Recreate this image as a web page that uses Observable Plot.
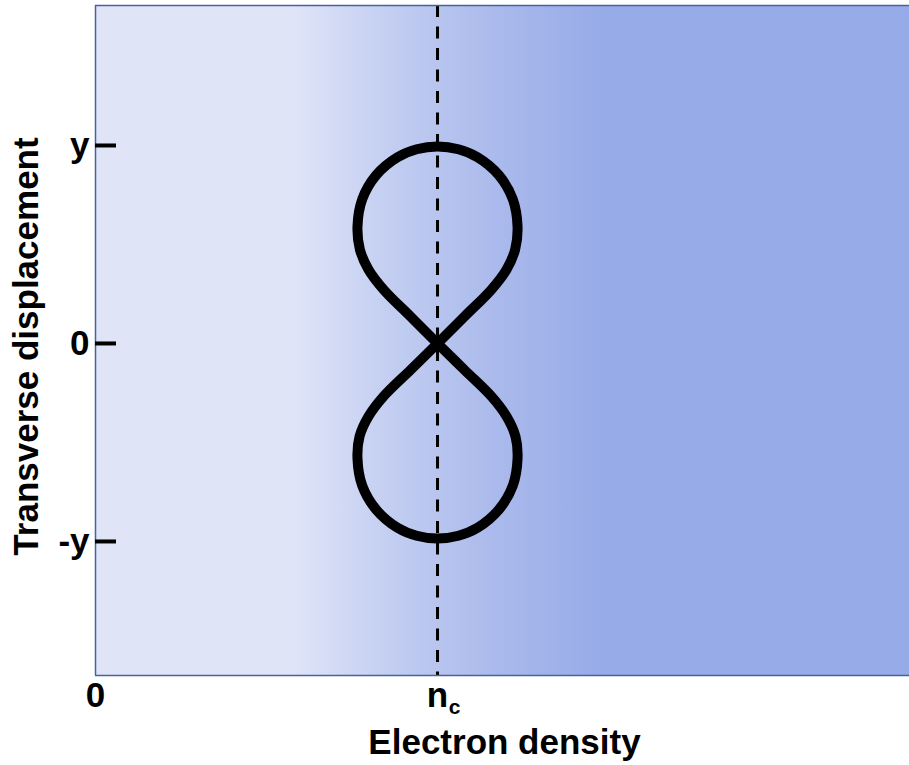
<!DOCTYPE html>
<html>
<head>
<meta charset="utf-8">
<script src="https://cdn.jsdelivr.net/npm/d3@7"></script>
<script src="https://cdn.jsdelivr.net/npm/@observablehq/plot@0.6"></script>
<style>
  body { margin: 0; background: #ffffff; }
  #chart svg { display: block; }
</style>
</head>
<body>
<div id="chart"></div>
<script>
// Axis extents (electron density in units of n_c, displacement in units of y)
const xDomain = [0, 2.38];
const yDomain = [-1.677, 1.707];

// Tick positions and their labels
const xTicks = [0, 1];
const xTickLabels = ["0", "n"];
const xTickSubscripts = ["", "c"];
const yTicks = [-1, 0, 1];
const yTickLabels = ["-y", "0", "y"];

// Critical density marker
const criticalDensity = [1];

// Figure-eight electron orbit, traced once around (closed path)
const orbitX = [
  1.000, 1.079, 1.158, 1.202, 1.227, 1.234, 1.220, 1.179, 1.117, 1.061,
  1.000, 0.939, 0.883, 0.821, 0.780, 0.766, 0.773, 0.798, 0.842, 0.921,
  1.000, 1.079, 1.158, 1.202, 1.228, 1.234, 1.220, 1.179, 1.117, 1.061,
  1.000, 0.939, 0.883, 0.821, 0.780, 0.766, 0.772, 0.798, 0.842, 0.921
];
const orbitY = [
  0.000, 0.136, 0.273, 0.374, 0.475, 0.591, 0.729, 0.851, 0.941, 0.981,
  0.995, 0.981, 0.941, 0.851, 0.729, 0.591, 0.475, 0.374, 0.273, 0.136,
  0.000, -0.134, -0.268, -0.369, -0.470, -0.581, -0.719, -0.840, -0.931, -0.971,
  -0.985, -0.971, -0.931, -0.840, -0.719, -0.581, -0.470, -0.369, -0.268, -0.134
];

// Background shading: density profile ramp
const densityStops = [0.585, 0.87, 1.17, 1.477];
const densityColors = ["#dfe4f7", "#c2cdf1", "#abbaec", "#97abe8"];

const orbit = orbitX.map((x, i) => ({x, y: orbitY[i]}));
const borderColor = "#46639e";
const font = "'Liberation Sans', Arial, Helvetica, sans-serif";

const chart = Plot.plot({
  width: 909,
  height: 765,
  marginLeft: 95,
  marginRight: 0,
  marginTop: 5,
  marginBottom: 90,
  style: {
    fontFamily: font,
    fontSize: "35px",
    fontWeight: "bold",
    color: "black",
    background: "white",
    overflow: "visible"
  },
  x: {domain: xDomain, axis: null},
  y: {domain: yDomain, axis: null},
  marks: [
    Plot.frame({fill: "url(#density-gradient)", stroke: "none"}),
    Plot.ruleX(criticalDensity, {stroke: "black", strokeWidth: 3, strokeDasharray: "12,9.5"}),
    Plot.line(orbit, {x: "x", y: "y", curve: "catmull-rom-closed", stroke: "black", strokeWidth: 10, strokeLinejoin: "round"}),
    // plot border (left, top, bottom)
    Plot.ruleX([xDomain[0]], {stroke: borderColor, strokeWidth: 1.5}),
    Plot.ruleY(yDomain, {stroke: borderColor, strokeWidth: 1.5}),
    // inward y ticks
    Plot.axisY(yTicks, {tickSize: -21, stroke: "black", strokeWidth: 4, text: null, label: null}),
    Plot.axisY(yTicks, {tickSize: 0, tickPadding: 6, tickFormat: d => yTickLabels[yTicks.indexOf(d)], label: null, fontSize: 35}),
    Plot.axisX(xTicks, {tickSize: 0, tickPadding: 7, tickFormat: d => xTickLabels[xTicks.indexOf(d)], label: null, fontSize: 35}),
    Plot.text(xTicks, {x: d => d, text: (d, i) => xTickSubscripts[i], frameAnchor: "bottom", lineAnchor: "middle", dx: 17, dy: 32, fontSize: 21, fontWeight: "bold"}),
    Plot.text(["Electron density"], {frameAnchor: "bottom", lineAnchor: "middle", dx: 2, dy: 67, fontSize: 35, fontWeight: "bold"}),
    Plot.text(["Transverse displacement"], {frameAnchor: "left", textAnchor: "middle", rotate: -90, lineAnchor: "middle", dx: -69, dy: 6, fontSize: 35, fontWeight: "bold"})
  ]
});

// Horizontal gradient positioned on the x (density) scale
const xs = chart.scale("x");
const x0 = xs.apply(densityStops[0]);
const x1 = xs.apply(densityStops[densityStops.length - 1]);
const grad = d3.select(chart).insert("defs", ":first-child")
  .append("linearGradient")
  .attr("id", "density-gradient")
  .attr("gradientUnits", "userSpaceOnUse")
  .attr("x1", x0).attr("x2", x1).attr("y1", 0).attr("y2", 0);
densityStops.forEach((s, i) => {
  grad.append("stop")
    .attr("offset", (xs.apply(s) - x0) / (x1 - x0))
    .attr("stop-color", densityColors[i]);
});

document.getElementById("chart").append(chart);
</script>
</body>
</html>
